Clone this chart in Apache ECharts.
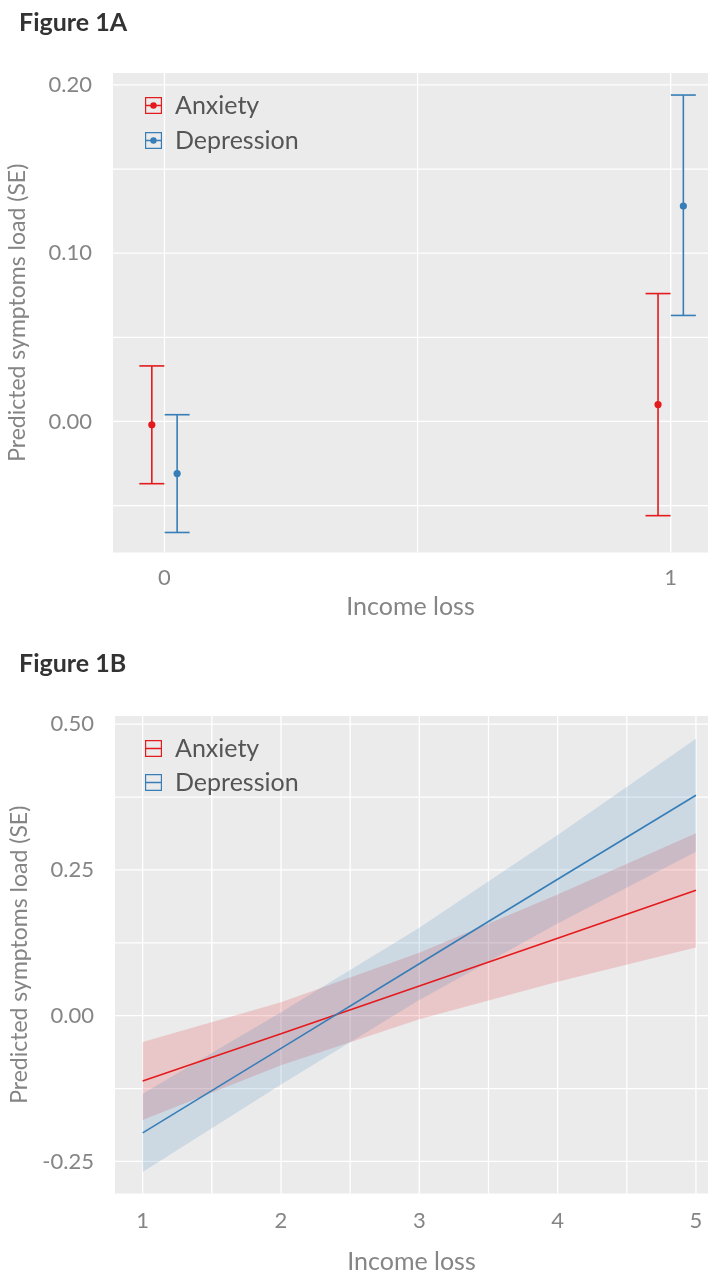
<!DOCTYPE html>
<html><head><meta charset="utf-8">
<script src="https://cdn.jsdelivr.net/npm/echarts@6/dist/echarts.min.js"></script>
<style>html,body{margin:0;padding:0;background:#fff}#c{width:708px;height:1279px}</style>
</head><body><div id="c"></div>
<script>
// ---------- Figure 1A data ----------
const catsA = [0, 1];
const anxMeanA = [-0.002, 0.010];
const anxLowA = [-0.037, -0.056];
const anxHighA = [0.033, 0.076];
const depMeanA = [-0.031, 0.128];
const depLowA = [-0.066, 0.063];
const depHighA = [0.004, 0.194];
const yTicksA = [0, 0.1, 0.2];
const yMinorA = [-0.05, 0.05, 0.15];
const xTicksA = [0, 1];
const xMinorA = [0.5];

// ---------- Figure 1B data ----------
const xB = [1, 2, 3, 4, 5];
const anxFitB = [-0.112, -0.031, 0.051, 0.133, 0.215];
const anxLowB = [-0.179, -0.085, -0.006, 0.058, 0.117];
const anxHighB = [-0.045, 0.023, 0.108, 0.208, 0.313];
const depFitB = [-0.201, -0.056, 0.089, 0.234, 0.378];
const depLowB = [-0.268, -0.118, 0.027, 0.158, 0.281];
const depHighB = [-0.134, 0.006, 0.151, 0.310, 0.475];
const yTicksB = [-0.25, 0, 0.25, 0.5];
const yMinorB = [-0.125, 0.125, 0.375];
const xTicksB = [1, 2, 3, 4, 5];
const xMinorB = [1.5, 2.5, 3.5, 4.5];

const RED = '#e41a1c', BLUE = '#377eb8';
const FONT = 'Lato';
const GREY_TXT = '#858585';
const DODGE = 0.025;

const chart = echarts.init(document.getElementById('c'), null, {renderer: 'canvas'});

function gridLines(xi, hVals, vVals, anyX, anyY) {
  return {
    type: 'custom', xAxisIndex: xi, yAxisIndex: xi, silent: true, z: 1, data: [0],
    renderItem: (params, api) => {
      const cs = params.coordSys;
      const ch = [];
      hVals.forEach(v => {
        const y = api.coord([anyX, v])[1];
        ch.push({type: 'line', shape: {x1: cs.x, y1: y, x2: cs.x + cs.width, y2: y},
          style: {stroke: '#ffffff', lineWidth: 1.3}});
      });
      vVals.forEach(v => {
        const x = api.coord([v, anyY])[0];
        ch.push({type: 'line', shape: {x1: x, y1: cs.y, x2: x, y2: cs.y + cs.height},
          style: {stroke: '#ffffff', lineWidth: 1.3}});
      });
      return {type: 'group', children: ch};
    }
  };
}

function errSeries(name, color, means, lows, highs, offset) {
  return {
    name, type: 'custom', xAxisIndex: 0, yAxisIndex: 0, z: 5,
    itemStyle: {color},
    data: catsA.map((c, i) => [c + offset, lows[i], highs[i], means[i]]),
    encode: {x: 0, y: [1, 2, 3]},
    renderItem: (params, api) => {
      const x = api.value(0);
      const lo = api.coord([x, api.value(1)]);
      const hi = api.coord([x, api.value(2)]);
      const m = api.coord([x, api.value(3)]);
      const hw = 12.5;
      const st = {stroke: color, lineWidth: 1.6};
      return {type: 'group', children: [
        {type: 'line', shape: {x1: lo[0], y1: lo[1], x2: hi[0], y2: hi[1]}, style: st},
        {type: 'line', shape: {x1: lo[0] - hw, y1: lo[1], x2: lo[0] + hw, y2: lo[1]}, style: st},
        {type: 'line', shape: {x1: hi[0] - hw, y1: hi[1], x2: hi[0] + hw, y2: hi[1]}, style: st},
        {type: 'circle', shape: {cx: m[0], cy: m[1], r: 3.6}, style: {fill: color}}
      ]};
    }
  };
}

function bandSeries(lows, highs, fill) {
  return {
    type: 'custom', xAxisIndex: 1, yAxisIndex: 1, z: 2, silent: true,
    data: xB.map((x, i) => [x, lows[i], highs[i]]),
    encode: {x: 0, y: [1, 2]},
    renderItem: (params, api) => {
      if (params.dataIndex !== 0) return null;
      const pts = [];
      xB.forEach((x, i) => pts.push(api.coord([x, highs[i]])));
      for (let i = xB.length - 1; i >= 0; i--) pts.push(api.coord([xB[i], lows[i]]));
      return {type: 'polygon', shape: {points: pts}, style: {fill}};
    }
  };
}

const iconA = 'path://M0,0H20V20H0Z M1.4,1.4V18.6H18.6V1.4Z M1.4,9.25H18.6V10.75H1.4Z M10,6.2A3.8,3.8 0 1 1 9.99,6.2Z';
const iconB = 'path://M0,0H20V20H0Z M1.4,1.4V18.6H18.6V1.4Z M1.4,9.25H18.6V10.75H1.4Z';

const axisLabelStyle = {color: GREY_TXT, fontFamily: FONT, fontSize: 22};
const nameStyleX = {color: GREY_TXT, fontFamily: FONT, fontSize: 25};
const nameStyleY = {color: GREY_TXT, fontFamily: FONT, fontSize: 23};
const legendText = {fontFamily: FONT, fontSize: 25, color: '#555', lineHeight: 20, padding: [0, 0, 0, 8]};
const titleText = {fontFamily: FONT, fontWeight: 'bold', fontSize: 25, color: '#333'};

const option = {
  animation: false,
  backgroundColor: '#ffffff',
  title: [
    {text: 'Figure 1A', left: 14, top: 5, textStyle: titleText},
    {text: 'Figure 1B', left: 14, top: 646, textStyle: titleText}
  ],
  legend: [
    {data: ['Anxiety', 'Depression'], orient: 'vertical', left: 145, top: 93, padding: 0,
      itemWidth: 17, itemHeight: 17, itemGap: 10, icon: iconA, textStyle: legendText},
    {data: ['Anxiety ', 'Depression '], orient: 'vertical', left: 145, top: 736, padding: 0,
      itemWidth: 17, itemHeight: 17, itemGap: 9, icon: iconB, textStyle: legendText}
  ],
  grid: [
    {left: 113, top: 73, width: 595, height: 479.5, show: true, backgroundColor: '#ebebeb', borderWidth: 0, outerBoundsMode: 'none'},
    {left: 115, top: 716, width: 593, height: 477.5, show: true, backgroundColor: '#ebebeb', borderWidth: 0, outerBoundsMode: 'none'}
  ],
  xAxis: [
    {gridIndex: 0, type: 'value', min: -0.1017, max: 1.0737,
      axisLine: {show: false}, axisTick: {show: false}, splitLine: {show: false},
      axisLabel: Object.assign({customValues: xTicksA, margin: 14, formatter: v => String(Math.round(v))}, axisLabelStyle),
      name: 'Income loss', nameLocation: 'middle', nameGap: 42, nameTextStyle: nameStyleX, nameMoveOverlap: false},
    {gridIndex: 1, type: 'value', min: 0.8, max: 5.087,
      axisLine: {show: false}, axisTick: {show: false}, splitLine: {show: false},
      axisLabel: Object.assign({customValues: xTicksB, margin: 16, formatter: v => String(Math.round(v))}, axisLabelStyle),
      name: 'Income loss', nameLocation: 'middle', nameGap: 56, nameTextStyle: nameStyleX, nameMoveOverlap: false}
  ],
  yAxis: [
    {gridIndex: 0, type: 'value', min: -0.0779, max: 0.2071,
      axisLine: {show: false}, axisTick: {show: false}, splitLine: {show: false},
      axisLabel: Object.assign({customValues: yTicksA, margin: 21, formatter: v => v.toFixed(2)}, axisLabelStyle),
      name: 'Predicted symptoms load (SE)', nameLocation: 'middle', nameGap: 84, nameTextStyle: nameStyleY, nameMoveOverlap: false},
    {gridIndex: 1, type: 'value', min: -0.305, max: 0.514,
      axisLine: {show: false}, axisTick: {show: false}, splitLine: {show: false},
      axisLabel: Object.assign({customValues: yTicksB, margin: 21, formatter: v => v.toFixed(2)}, axisLabelStyle),
      name: 'Predicted symptoms load (SE)', nameLocation: 'middle', nameGap: 84, nameTextStyle: nameStyleY, nameMoveOverlap: false}
  ],
  series: [
    gridLines(0, yTicksA.concat(yMinorA), xTicksA.concat(xMinorA), 0, 0),
    gridLines(1, yTicksB.concat(yMinorB), xTicksB.concat(xMinorB), 1, 0),
    errSeries('Anxiety', RED, anxMeanA, anxLowA, anxHighA, -DODGE),
    errSeries('Depression', BLUE, depMeanA, depLowA, depHighA, DODGE),
    bandSeries(anxLowB, anxHighB, 'rgba(228,26,28,0.17)'),
    bandSeries(depLowB, depHighB, 'rgba(55,126,184,0.17)'),
    {name: 'Anxiety ', type: 'line', xAxisIndex: 1, yAxisIndex: 1, z: 4, symbol: 'none',
      itemStyle: {color: RED}, lineStyle: {color: RED, width: 1.6},
      data: xB.map((x, i) => [x, anxFitB[i]])},
    {name: 'Depression ', type: 'line', xAxisIndex: 1, yAxisIndex: 1, z: 4, symbol: 'none',
      itemStyle: {color: BLUE}, lineStyle: {color: BLUE, width: 1.6},
      data: xB.map((x, i) => [x, depFitB[i]])}
  ]
};
chart.setOption(option);
</script>
</body></html>
